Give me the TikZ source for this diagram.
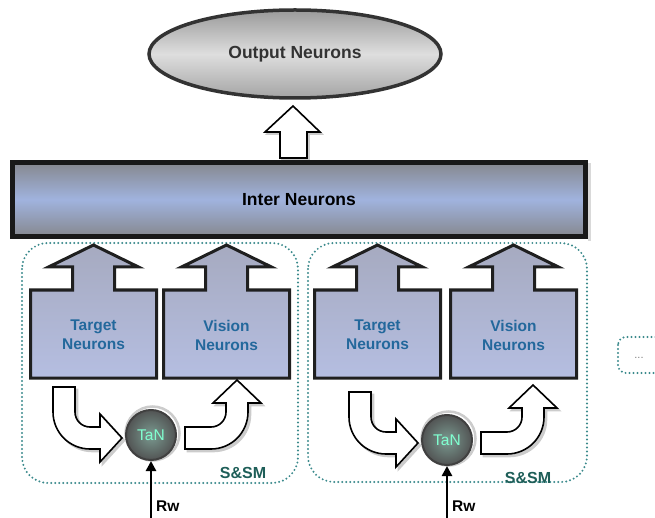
\documentclass[tikz,border=0pt]{standalone}
\usepackage{fontspec}
\setmainfont{Liberation Sans}
\usetikzlibrary{arrows.meta,shapes.geometric}
\definecolor{dotteal}{HTML}{3B8A8C}
\definecolor{sstext}{HTML}{1E5E58}
\definecolor{nblue}{HTML}{23689C}
\definecolor{boxblue}{HTML}{B5BEE1}
\definecolor{boxgray}{HTML}{A6AAC0}
\definecolor{interblue}{HTML}{A0B3DE}
\definecolor{intergray}{HTML}{86888F}
\definecolor{elllight}{HTML}{DEDEDE}
\definecolor{elldark}{HTML}{9A9A9A}
\definecolor{tangreen}{HTML}{80FFD0}
\definecolor{taninner}{HTML}{7A9A90}
\definecolor{tanouter}{HTML}{525454}
\begin{document}
\begin{tikzpicture}[x=1pt,y=-1pt,
  hollow/.style={draw=black, line width=1.6pt, fill=white, line join=miter},
  hshadow/.style={draw=gray!40, line width=1.6pt, fill=gray!40},
  group/.style={draw=dotteal, line width=2.2pt, dash pattern=on 0pt off 4pt, line cap=round, rounded corners=26pt},
  outell/.style={ellipse, draw=black!80, line width=3.5pt, minimum width=292, minimum height=88,
     top color=elldark, bottom color=elldark!90!white, middle color=elllight,
     font=\fontsize{17.5}{20}\selectfont\bfseries, text=black!80},
  interbox/.style={rectangle, draw=black!90, line width=5pt, minimum width=573, minimum height=74,
     top color=intergray, bottom color=intergray, middle color=interblue,
     font=\fontsize{17.5}{20}\selectfont\bfseries, text=black},
  nbox/.style={draw=black!88, line width=3pt, line join=miter, top color=boxgray, bottom color=boxblue},
  ntext/.style={align=center, font=\fontsize{15.5}{19}\selectfont\bfseries, text=nblue},
  tan/.style={circle, draw=black!75, line width=2pt, minimum size=50, inner sep=0pt,
     inner color=taninner, outer color=tanouter, text=tangreen, font=\fontsize{15.5}{18}\selectfont},
  rw/.style={line width=2.6pt, -{Triangle[length=10pt, width=10pt]}},
  rwlabel/.style={anchor=west, font=\fontsize{15.5}{18}\selectfont\bfseries, inner sep=0pt},
  sslabel/.style={font=\fontsize{16}{18}\selectfont\bfseries, text=sstext, inner sep=0pt}
]
\useasboundingbox (0,0) rectangle (655,518);
\clip (0,0) rectangle (655,518);

% output neurons
\node[outell] (out) at (295,54) {Output Neurons};
\path[hshadow] (282,160) -- (282,134) -- (267,134) -- (295,108) -- (322,134) -- (309,134) -- (309,160) -- cycle;
\draw[hollow] (280,158) -- (280,132) -- (265,132) -- (293,106) -- (320,132) -- (307,132) -- (307,158) -- cycle;

% inter neurons
\fill[gray!30] (588,163) rectangle (591,241);
\node[interbox] (inter) at (299,199.5) {Inter Neurons};

% groups
\draw[group] (22,243) rectangle (298,483);
\draw[group] (308,243) rectangle (587,482);
\draw[group, rounded corners=8pt] (618,337) rectangle (690,373);
\node[font=\fontsize{11}{12}\selectfont, text=gray] (dots) at (639,358) {...};

% neuron boxes with up arrows
\foreach \cx/\nm/\la in {93.5/tgtL/Target, 226.5/visL/Vision, 377.5/tgtR/Target, 513.5/visR/Vision}{
  \path[nbox] ({\cx-63},378) -- ({\cx-63},290) -- ({\cx-21},290) -- ({\cx-21},267) -- ({\cx-45},267)
     -- (\cx,245) -- ({\cx+45},267) -- ({\cx+21},267) -- ({\cx+21},290) -- ({\cx+63},290)
     -- ({\cx+63},378) -- cycle;
  \node[ntext] (\nm) at (\cx,335) {\la\\Neurons};
}

% TaN nodes
\draw[gray!40, line width=2.5pt] (152.5,433.5) circle[radius=27];
\draw[gray!40, line width=2.5pt] (448.5,438.5) circle[radius=27];
\node[tan] (tanL) at (151,435) {TaN};
\node[tan] (tanR) at (447,440) {TaN};

% curved hollow arrows
\foreach \t in {tanL,tanR}{
  \begin{scope}[shift={(\t)}]
    \path[hshadow, shift={(2.5,2.5)}] (-76,-48) -- (-98,-48) -- (-98,-23) arc[start angle=180, end angle=90, radius=37]
      -- (-51,14) -- (-51,27) -- (-29,3) -- (-51,-21) -- (-51,-8) -- (-61,-8)
      arc[start angle=90, end angle=180, radius=15] -- cycle;
    \draw[hollow] (-76,-48) -- (-98,-48) -- (-98,-23) arc[start angle=180, end angle=90, radius=37]
      -- (-51,14) -- (-51,27) -- (-29,3) -- (-51,-21) -- (-51,-8) -- (-61,-8)
      arc[start angle=90, end angle=180, radius=15] -- cycle;
    \path[hshadow, shift={(2.5,2.5)}] (34,-8) -- (60,-8) arc[start angle=90, end angle=0, radius=15]
      -- (75,-32) -- (62,-32) -- (86,-55) -- (110,-32) -- (97,-32) -- (97,-23)
      arc[start angle=0, end angle=90, radius=37] -- (34,14) -- cycle;
    \draw[hollow] (34,-8) -- (60,-8) arc[start angle=90, end angle=0, radius=15]
      -- (75,-32) -- (62,-32) -- (86,-55) -- (110,-32) -- (97,-32) -- (97,-23)
      arc[start angle=0, end angle=90, radius=37] -- (34,14) -- cycle;
  \end{scope}
}

% Rw inputs
\coordinate (rwL) at (151,520);
\coordinate (rwR) at (447,520);
\draw[rw] (rwL) -- (tanL.south);
\draw[rw] (rwR) -- (tanR.south);
\node[rwlabel] (rwtL) at (156,506) {Rw};
\node[rwlabel] (rwtR) at (452,506) {Rw};

% S&SM labels
\node[sslabel] (ssL) at (243,473) {S\&SM};
\node[sslabel] (ssR) at (528,478) {S\&SM};
\end{tikzpicture}
\end{document}
